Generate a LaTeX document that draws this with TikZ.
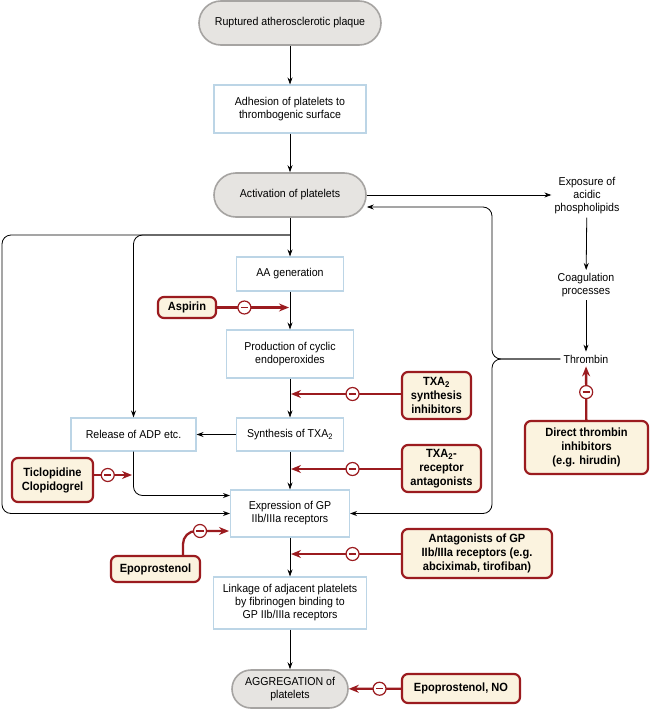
\documentclass[tikz,border=0pt]{standalone}
\usepackage{fontspec}
\setmainfont[FakeStretch=0.93]{Liberation Sans}
\usetikzlibrary{arrows.meta,calc}
\definecolor{drk}{HTML}{9B1B1F}
\definecolor{pillfill}{HTML}{E6E4E1}
\definecolor{pilldraw}{HTML}{A6A4A2}
\definecolor{boxdraw}{HTML}{BCD5E6}
\definecolor{drugfill}{HTML}{FBF3DF}
\newcommand\normtext{\fontsize{11.4}{13}\selectfont}
\newcommand\drugtext{\bfseries\fontsize{11.9}{14}\selectfont}
\tikzset{
  pill/.style={draw=pilldraw, fill=pillfill, line width=1.6pt, rounded corners=#1, align=center, font=\normtext, inner sep=2pt},
  pill/.default=21pt,
  proc/.style={draw=boxdraw, fill=white, line width=1.1pt, align=center, font=\normtext, inner sep=2pt},
  drug/.style={draw=drk, fill=drugfill, line width=2.2pt, rounded corners=6pt, align=center, font=\drugtext, inner sep=2pt},
  plain/.style={align=center, inner sep=3pt, font=\normtext},
  arr/.style={line width=0.8pt, -{Stealth[length=7pt,width=5pt]}},
  inh/.style={draw=drk, line width=2.3pt, -{Stealth[length=10pt,width=8pt]}},
  inhsign/.style={circle, draw=drk, line width=1.2pt, fill=white, minimum size=13pt, inner sep=0pt,
    path picture={\draw[drk, line width=1.2pt, arrows=-] ([xshift=-3.6pt]path picture bounding box.center) -- ([xshift=3.6pt]path picture bounding box.center);}},
}
\begin{document}
\begin{tikzpicture}[x=1pt,y=-1pt]
\fill[white] (0,0) rectangle (650,709);
\useasboundingbox (0,0) rectangle (650,709);

% nodes
\node[pill=22pt, minimum width=182pt, minimum height=44pt] (plaque) at (290,23) {Ruptured atherosclerotic plaque};
\node[proc, minimum width=152pt, minimum height=48pt] (adh) at (290,109) {Adhesion of platelets to\\thrombogenic surface};
\node[pill=22pt, minimum width=152pt, minimum height=44pt] (act) at (290,195) {Activation of platelets};
\node[plain] (expo) at (587,196) {Exposure of\\acidic\\phospholipids};
\node[plain] (coag) at (586,285) {Coagulation\\processes};
\node[plain] (thr) at (586,359) {Thrombin};
\node[proc, minimum width=107pt, minimum height=34pt] (aa) at (290,274) {AA generation};
\node[drug, minimum width=58pt, minimum height=21pt] (asp) at (187,307.5) {Aspirin};
\node[proc, minimum width=127pt, minimum height=48pt] (prod) at (290,354) {Production of cyclic\\endoperoxides};
\node[drug, minimum width=69pt, minimum height=47pt] (txs) at (436.5,395.5) {TXA\textsubscript{2}\\synthesis\\inhibitors};
\node[proc, minimum width=107pt, minimum height=33pt] (syn) at (290,434.5) {Synthesis of TXA\textsubscript{2}};
\node[proc, minimum width=125pt, minimum height=33pt] (rel) at (133.5,434.5) {Release of ADP etc.};
\node[drug, minimum width=79pt, minimum height=47pt] (txr) at (441.5,468.5) {TXA\textsubscript{2}-\\receptor\\antagonists};
\node[drug, minimum width=123pt, minimum height=53pt] (dti) at (586.5,447.5) {Direct thrombin\\inhibitors\\(e.g. hirudin)};
\node[drug, minimum width=81pt, minimum height=44pt] (tic) at (52.5,480) {Ticlopidine\\Clopidogrel};
\node[proc, minimum width=119pt, minimum height=47pt] (expr) at (290,513.5) {Expression of GP\\IIb/IIIa receptors};
\node[drug, minimum width=89pt, minimum height=26pt] (epo) at (155.5,569) {Epoprostenol};
\node[drug, minimum width=150pt, minimum height=49pt] (gpa) at (477,553.5) {Antagonists of GP\\IIb/IIIa receptors (e.g.\\abciximab, tirofiban)};
\node[proc, minimum width=153pt, minimum height=52pt] (link) at (290,603) {Linkage of adjacent platelets\\by fibrinogen binding to\\GP IIb/IIIa receptors};
\node[pill=19pt, minimum width=116pt, minimum height=38pt] (agg) at (290,689) {AGGREGATION of\\platelets};
\node[drug, minimum width=118pt, minimum height=29pt] (eno) at (461,688.5) {Epoprostenol, NO};

% black connectors
\coordinate (j1) at (290,235);
\coordinate (lx) at (2,513.5);
\coordinate (e1) at ($(expr.west)+(0,-18)$);
\coordinate (jr) at (492,359);
\coordinate (a2) at ($(act.east)+(0,12)$);
\draw[arr] (plaque) -- (adh);
\draw[arr] (adh) -- (act);
\draw[arr] (act) -- (aa);
\draw[arr] (aa) -- (prod);
\draw[arr] (prod) -- (syn);
\draw[arr] (syn) -- (rel);
\draw[arr] (syn) -- (expr);
\draw[arr] (expr) -- (link);
\draw[arr] (link) -- (agg);
\draw[arr, rounded corners=9pt] (j1) -| (lx) -- (expr.west);
\draw[arr, rounded corners=9pt] (j1) -| (rel.north);
\draw[arr, rounded corners=9pt] (rel.south) |- (e1);
\draw[arr] (act.east) -- (act.east -| expo.west);
\draw[arr] (expo) -- (coag);
\draw[arr] (coag) -- (thr);
\draw[arr, rounded corners=9pt] (thr.west) -- (jr) |- (a2);
\draw[arr, rounded corners=9pt] (thr.west) -- (jr) |- (expr.east);

% red inhibitory connectors
\coordinate (tA) at (289,307.5);
\coordinate (tS) at (291,394);
\coordinate (tR) at (291,469);
\coordinate (tG) at (291,554);
\coordinate (tT) at (132,475);
\coordinate (tE) at (229,531);
\coordinate (ep1) at ($(epo.north)+(27.5,0)$);
\draw[inh] (asp) -- (tA) node[inhsign, pos=0.38] (m1) {};
\draw[inh] (txs.west |- tS) -- (tS) node[inhsign, pos=0.44] (m2) {};
\draw[inh] (txr.west |- tR) -- (tR) node[inhsign, pos=0.44] (m3) {};
\draw[inh] (gpa.west |- tG) -- (tG) node[inhsign, pos=0.44] (m4) {};
\draw[inh] (eno) -- (agg) node[inhsign, pos=0.41] (m5) {};
\draw[inh] (tic.east |- tT) -- (tT) node[inhsign, pos=0.36] (m6) {};
\draw[inh] (dti) -- (thr) node[inhsign, pos=0.52] (m7) {};
\draw[inh, rounded corners=13pt] (ep1) |- (tE);
\node[inhsign] (m8) at (200,531) {};
\end{tikzpicture}
\end{document}
